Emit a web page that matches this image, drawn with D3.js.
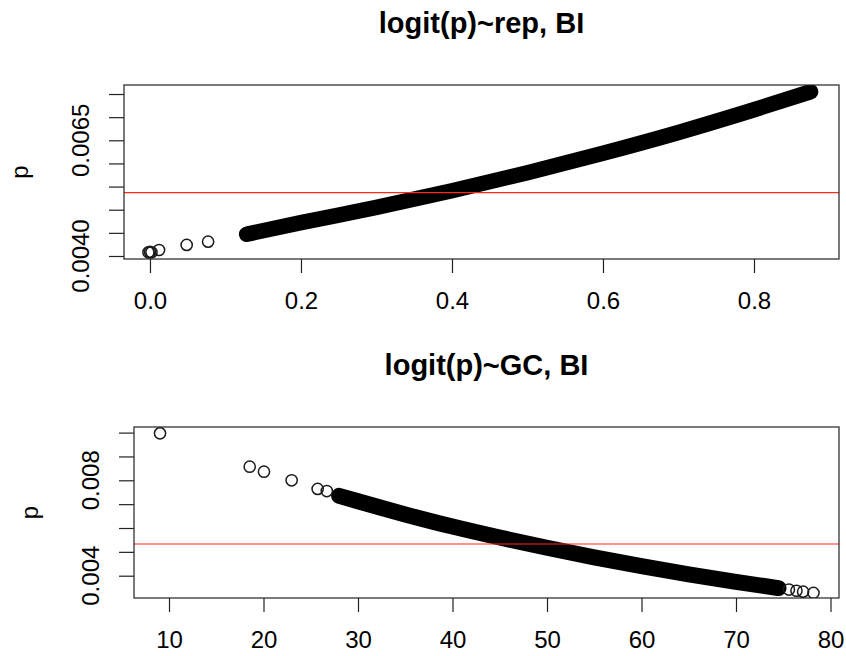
<!DOCTYPE html>
<html><head><meta charset="utf-8">
<script src="https://cdn.jsdelivr.net/npm/d3@7"></script>
<style>body{margin:0;background:#fff}svg{display:block}</style>
</head><body><svg id="c" width="846" height="656"></svg>
<script>
// ---------------- data ----------------
const repTitle = "logit(p)~rep, BI";
const gcTitle = "logit(p)~GC, BI";
const yLabel = "p";

// top panel: isolated circles and the dense band of overlapping circles
const repPtsX = [-0.002, 0.0, 0.002, 0.012, 0.0486, 0.077];
const repPtsP = [0.00408, 0.00409, 0.00408, 0.00413, 0.00424, 0.00431];
const repBandX = [0.128, 0.2, 0.3, 0.4, 0.5, 0.6, 0.7, 0.8, 0.875];
const repBandP = [0.00447, 0.00472, 0.00505, 0.00541, 0.00580, 0.00622, 0.00667, 0.00716, 0.00755];
const repRef = 0.00537;
const repXTicks = [0, 0.2, 0.4, 0.6, 0.8];
const repXLabels = ["0.0", "0.2", "0.4", "0.6", "0.8"];
const repYTicks = [0.0040, 0.0045, 0.0050, 0.0055, 0.0060, 0.0065, 0.0070, 0.0075];
const repYLabels = ["0.0040", "", "", "", "", "0.0065", "", ""];

// bottom panel
const gcPtsX = [9.05, 18.54, 20.05, 22.98, 25.73, 26.7, 75.6, 76.4, 77.1, 78.2];
const gcPtsP = [0.00997, 0.00857, 0.00836, 0.00800, 0.00764, 0.00755, 0.00342, 0.00337, 0.00333, 0.00328];
const gcBandX = [28.0, 30, 35, 40, 45, 50, 55, 60, 65, 70, 74.5];
const gcBandP = [0.00735, 0.00712, 0.00657, 0.00606, 0.00560, 0.00517, 0.00477, 0.00440, 0.00406, 0.00374, 0.00348];
const gcRef = 0.00533;
const gcXTicks = [10, 20, 30, 40, 50, 60, 70, 80];
const gcXLabels = ["10", "20", "30", "40", "50", "60", "70", "80"];
const gcYTicks = [0.004, 0.005, 0.006, 0.007, 0.008, 0.009, 0.010];
const gcYLabels = ["0.004", "", "", "", "0.008", "", ""];

// ---------------- drawing ----------------
const svg = d3.select("#c");
const FONT = "'Liberation Sans', Arial, Helvetica, sans-serif";

function panel(cfg) {
  const {box, xDom, yDom} = cfg;
  const x = d3.scaleLinear().domain(xDom).range([box.l, box.r]);
  const y = d3.scaleLinear().domain(yDom).range([box.b, box.t]);
  const g = svg.append("g");

  // title
  g.append("text").attr("x", (box.l + box.r) / 2).attr("y", box.t - 52)
    .attr("text-anchor", "middle").attr("font-family", FONT)
    .attr("font-weight", "bold").attr("font-size", 29).attr("fill", "#000")
    .text(cfg.title);

  // clip
  const cid = "clip" + cfg.id;
  svg.append("clipPath").attr("id", cid).append("rect")
    .attr("x", box.l).attr("y", box.t).attr("width", box.r - box.l).attr("height", box.b - box.t);
  const inner = g.append("g").attr("clip-path", `url(#${cid})`);

  // band
  const band = cfg.bandX.map((v, i) => [v, cfg.bandP[i]]);
  inner.append("path").datum(band)
    .attr("d", d3.line().x(d => x(d[0])).y(d => y(d[1])).curve(d3.curveMonotoneX))
    .attr("fill", "none").attr("stroke", "#000").attr("stroke-width", cfg.bandW)
    .attr("stroke-linecap", "round").attr("stroke-linejoin", "round");
  inner.selectAll("circle.b").data(band).join("circle").attr("class", "b")
    .attr("cx", d => x(d[0])).attr("cy", d => y(d[1])).attr("r", 5.6)
    .attr("fill", "none").attr("stroke", "#000").attr("stroke-width", 1.5);

  // isolated points
  const pts = cfg.ptsX.map((v, i) => [v, cfg.ptsP[i]]);
  inner.selectAll("circle.p").data(pts).join("circle").attr("class", "p")
    .attr("cx", d => x(d[0])).attr("cy", d => y(d[1])).attr("r", 5.6)
    .attr("fill", "none").attr("stroke", "#1a1a1a").attr("stroke-width", 1.5);

  // reference line
  inner.append("line").attr("x1", box.l).attr("x2", box.r)
    .attr("y1", y(cfg.ref)).attr("y2", y(cfg.ref))
    .attr("stroke", "#ff2a1a").attr("stroke-width", 1.2);

  // box
  g.append("rect").attr("x", box.l).attr("y", box.t)
    .attr("width", box.r - box.l).attr("height", box.b - box.t)
    .attr("fill", "none").attr("stroke", "#222").attr("stroke-width", 1.2);

  // x axis
  const xa = g.append("g").attr("transform", `translate(0,${box.b})`)
    .call(d3.axisBottom(x).tickValues(cfg.xTicks).tickSize(14).tickPadding(19)
      .tickFormat((d, i) => cfg.xLabels[i]));
  xa.select(".domain").remove();
  xa.selectAll(".tick line").attr("stroke", "#222").attr("stroke-width", 1.2);
  xa.selectAll(".tick text").attr("font-family", FONT).attr("font-size", 24)
    .attr("fill", "#000").attr("dy", "0.71em");

  // y axis
  const ya = g.append("g").attr("transform", `translate(${box.l},0)`)
    .call(d3.axisLeft(y).tickValues(cfg.yTicks).tickSize(15).tickFormat(() => ""));
  ya.select(".domain").remove();
  ya.selectAll(".tick line").attr("stroke", "#222").attr("stroke-width", 1.2);
  ya.selectAll(".tick text").remove();
  cfg.yTicks.forEach((t, i) => {
    if (!cfg.yLabels[i]) return;
    g.append("text").attr("transform", `translate(${box.l - 35},${y(t)}) rotate(-90)`)
      .attr("text-anchor", "middle").attr("font-family", FONT).attr("font-size", 24)
      .attr("fill", "#000").text(cfg.yLabels[i]);
  });

  // y label
  g.append("text").attr("transform", `translate(${box.l - 96},${(box.t + box.b) / 2}) rotate(-90)`)
    .attr("text-anchor", "middle").attr("font-family", FONT).attr("font-size", 24)
    .attr("fill", "#000").text(yLabel);
}

panel({
  id: "rep", title: repTitle,
  box: {l: 124, r: 839, t: 85, b: 259},
  xDom: [-0.0344, 0.9126], yDom: [0.003935, 0.007695],
  ptsX: repPtsX, ptsP: repPtsP, bandX: repBandX, bandP: repBandP, bandW: 15.5,
  ref: repRef, xTicks: repXTicks, xLabels: repXLabels, yTicks: repYTicks, yLabels: repYLabels
});
panel({
  id: "gc", title: gcTitle,
  box: {l: 134, r: 839, t: 427, b: 598},
  xDom: [6.296, 80.90], yDom: [0.003065, 0.010235],
  ptsX: gcPtsX, ptsP: gcPtsP, bandX: gcBandX, bandP: gcBandP, bandW: 16,
  ref: gcRef, xTicks: gcXTicks, xLabels: gcXLabels, yTicks: gcYTicks, yLabels: gcYLabels
});
</script></body></html>
